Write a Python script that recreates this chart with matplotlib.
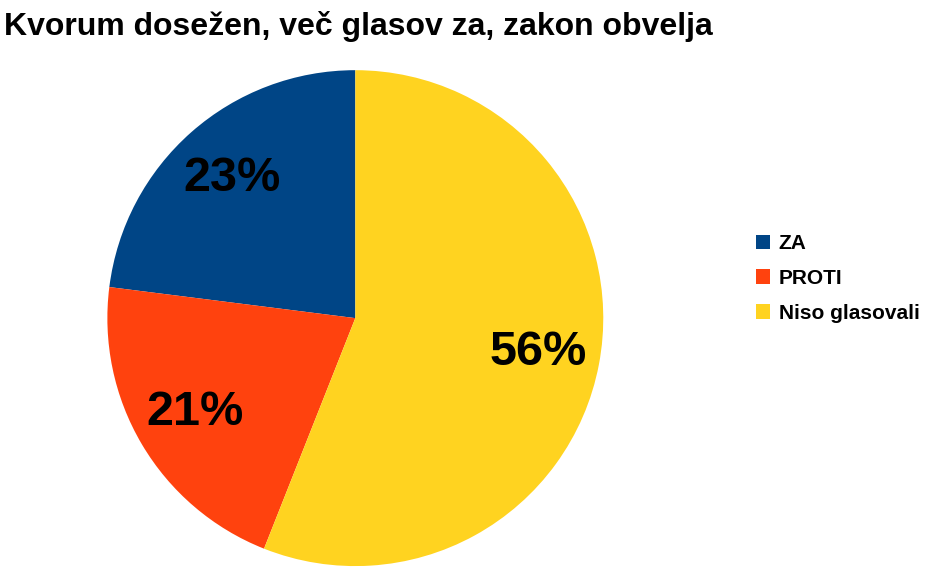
import matplotlib
matplotlib.use("Agg")
import matplotlib.pyplot as plt
from matplotlib.patches import Patch

plt.rcParams['font.family'] = ['Liberation Sans', 'DejaVu Sans']

labels = ["ZA", "PROTI", "Niso glasovali"]
values = [23, 21, 56]
colors = ["#004586", "#ff420e", "#ffd320"]

fig = plt.figure(figsize=(9.4, 5.8), dpi=100)
fig.text(0.004, 0.955, "Kvorum dosežen, več glasov za, zakon obvelja",
         fontsize=23, fontweight='bold', va='center', ha='left')
ax = fig.add_axes([0.114, 0.024, 0.528, 0.855])
wedges, texts, autotexts = ax.pie(values, colors=colors, startangle=90, counterclock=True,
                                  autopct='%1.0f%%', pctdistance=0.75,
                                  textprops=dict(fontsize=35, fontweight='bold', color='black'))
ax.set_xlim(-1, 1)
ax.set_ylim(-1, 1)
ax.set_aspect('equal')
handles = [Patch(facecolor=c, label=l) for c, l in zip(colors, labels)]
fig.legend(handles=handles, loc='center left', bbox_to_anchor=(0.795, 0.52), frameon=False,
           prop=dict(size=15, weight='bold'), handlelength=0.7, handleheight=0.7,
           handletextpad=0.4, labelspacing=0.75, borderaxespad=0)
fig.savefig("out.png", dpi=100)
